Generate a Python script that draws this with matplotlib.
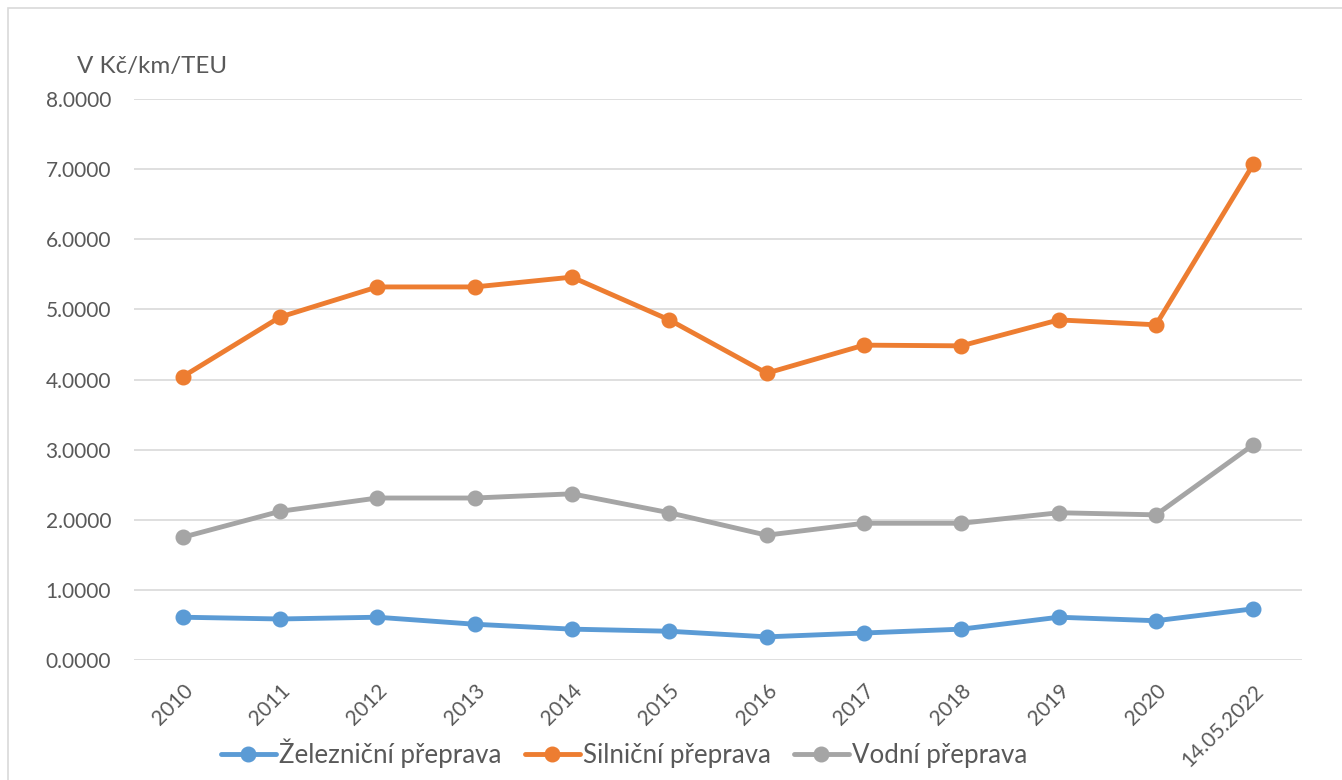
import matplotlib.pyplot as plt
from matplotlib.patches import Rectangle

years = ["2010", "2011", "2012", "2013", "2014", "2015", "2016", "2017",
         "2018", "2019", "2020", "14.05.2022"]
zeleznicni = [0.61, 0.585, 0.61, 0.51, 0.44, 0.41, 0.33, 0.385, 0.44, 0.61, 0.56, 0.73]
silnicni = [4.04, 4.89, 5.32, 5.32, 5.46, 4.85, 4.09, 4.49, 4.48, 4.85, 4.78, 7.07]
vodni = [1.75, 2.12, 2.31, 2.31, 2.37, 2.10, 1.78, 1.95, 1.95, 2.10, 2.07, 3.07]
yticks = [0, 1, 2, 3, 4, 5, 6, 7, 8]

plt.rcParams['font.family'] = ['Lato', 'DejaVu Sans']
text_color = "#595959"

fig = plt.figure(figsize=(13.42, 7.80), dpi=100)
ax = fig.add_axes([134 / 1342, 1 - 660 / 780, 1168 / 1342, 561 / 780])

x = range(len(years))
ax.plot(x, zeleznicni, color="#5B9BD5", lw=3.5, marker="o", ms=10.5,
        label="Železniční přeprava", solid_capstyle="round")
ax.plot(x, silnicni, color="#ED7D31", lw=3.5, marker="o", ms=10.5,
        label="Silniční přeprava", solid_capstyle="round")
ax.plot(x, vodni, color="#A5A5A5", lw=3.5, marker="o", ms=10.5,
        label="Vodní přeprava", solid_capstyle="round")

ax.set_xlim(-0.5, len(years) - 0.5)
ax.set_ylim(0, 8)
ax.set_yticks(yticks)
ax.set_yticklabels([f"{v:.4f}" for v in yticks])
ax.set_xticks(list(x))
ax.set_xticklabels(years, rotation=45, ha="right", rotation_mode="anchor")
ax.grid(axis="y", color="#D9D9D9", lw=1.2)
ax.set_axisbelow(True)
for s in ax.spines.values():
    s.set_visible(False)
ax.tick_params(length=0, labelsize=15, colors=text_color)
ax.tick_params(axis="y", pad=16.5)
ax.tick_params(axis="x", pad=15)

fig.text(77 / 1342, 1 - 67 / 780, "V Kč/km/TEU", fontsize=17.4, color=text_color,
         va="center", ha="left")

ax.legend(loc="center", bbox_to_anchor=((624 - 134) / 1168, -(753 - 660) / 561),
          ncol=3, frameon=False, fontsize=18.6, labelcolor=text_color,
          handlelength=2.13, handletextpad=0.12, columnspacing=0.9)

fig.add_artist(Rectangle((8 / 1342, -0.01), 1.0, 1 - 8 / 780 + 0.01, transform=fig.transFigure,
                         fill=False, edgecolor="#D9D9D9", lw=1.2))

fig.savefig("out.png", dpi=100)
